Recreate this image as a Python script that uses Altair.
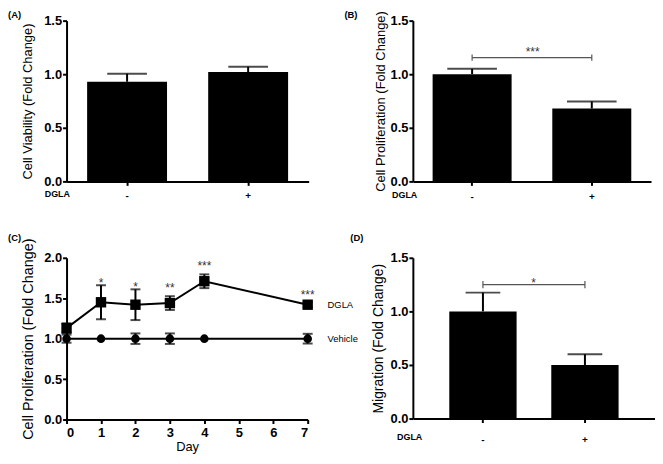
import altair as alt
import pandas as pd

# ---------------- data ----------------
groups = ["-", "+"]
viab_mean = [0.93, 1.02]
viab_err = [0.075, 0.05]
prolif_mean = [1.0, 0.68]
prolif_err = [0.05, 0.065]
mig_mean = [1.0, 0.5]
mig_err = [0.175, 0.10]

days = [0, 1, 2, 3, 4, 7]
dgla_mean = [1.13, 1.45, 1.42, 1.44, 1.71, 1.42]
dgla_err = [0.06, 0.21, 0.19, 0.085, 0.085, 0.03]
veh_mean = [1.0, 1.0, 1.0, 1.0, 1.0, 1.0]
veh_err = [0.05, 0.0, 0.065, 0.065, 0.0, 0.06]
star_days = [1, 2, 3, 4, 7]
star_text = ["*", "*", "**", "***", "***"]
star_y = [1.72, 1.68, 1.66, 1.93, 1.58]

FONT = "Liberation Sans"


def label_layer(text, x, y, size=9.5, weight="bold", align="left", baseline="middle"):
    return alt.Chart(pd.DataFrame({"t": [text]})).mark_text(
        font=FONT, fontSize=size, fontWeight=weight, align=align,
        baseline=baseline, color="black"
    ).encode(text="t:N", x=alt.value(x), y=alt.value(y))


def bar_panel(means, errs, ytitle, width, height, p_in, p_out, cap, tick_pad,
              title_pad, panel, panel_xy, dgla_xy, sig=None, title_size=13):
    df = pd.DataFrame({"g": groups, "m": means,
                       "hi": [m + e for m, e in zip(means, errs)]})
    xscale = alt.Scale(domain=groups, paddingInner=p_in, paddingOuter=p_out)
    xaxis = alt.Axis(title=None, labelAngle=0, labelFontSize=10,
                     labelPadding=tick_pad, tickSize=4)
    yscale = alt.Scale(domain=[0, 1.5], nice=False)
    yaxis = alt.Axis(values=[0, 0.5, 1.0, 1.5], format=".1f", titleFontSize=title_size,
                     titlePadding=title_pad, labelPadding=1)

    def X(field):
        return alt.X(field, sort=groups, scale=xscale, axis=xaxis, title=None)

    def Y(field):
        return alt.Y(field, scale=yscale, axis=yaxis, title=ytitle)

    base = alt.Chart(df)
    bars = base.mark_bar(color="black").encode(x=X("g:N"), y=Y("m:Q"))
    err = base.mark_rule(color="black", strokeWidth=2).encode(
        x=X("g:N"), y=Y("m:Q"), y2="hi:Q")
    capm = base.mark_tick(color="black", thickness=2, size=cap, orient="horizontal").encode(
        x=X("g:N"), y=Y("hi:Q"))
    layers = [bars, err, capm]
    if sig is not None:
        sy, half, star, star_dy, step_half = sig
        sdf = pd.DataFrame({"x1": ["-"], "x2": ["+"], "y": [sy], "s": [star]})
        edf = pd.DataFrame({"g": groups, "lo": [sy - half] * 2, "hi2": [sy + half] * 2})
        br = alt.Chart(sdf).mark_rule(color="#555555", strokeWidth=1.2).encode(
            x=X("x1:N"), x2="x2:N", y=Y("y:Q"))
        ends = alt.Chart(edf).mark_rule(color="#555555", strokeWidth=1.2).encode(
            x=X("g:N"), y=Y("lo:Q"), y2="hi2:Q")
        st = alt.Chart(sdf).mark_text(font=FONT, fontSize=12, color="#333333",
                                      baseline="alphabetic", dx=step_half, dy=star_dy).encode(
            x=X("x1:N"), y=Y("y:Q"), text="s:N")
        layers += [br, ends, st]
    layers.append(label_layer(panel, panel_xy[0], panel_xy[1]))
    layers.append(label_layer("DGLA", dgla_xy[0], dgla_xy[1], size=9))
    return alt.layer(*layers).properties(width=width, height=height)


A = bar_panel(viab_mean, viab_err, "Cell Viability (Fold Change)", 244, 162,
              0.34, 0.17, 40, 5, 9, "(A)", (-59, -6), (-22, 175))
B = bar_panel(prolif_mean, prolif_err, "Cell Proliferation (Fold Change)", 240, 162,
              0.34, 0.165, 50, 6, 3, "(B)", (-69, -6), (-21, 176),
              sig=(1.155, 0.03, "***", -2, 61))
D = bar_panel(mig_mean, mig_err, "Migration (Fold Change)", 244, 162,
              0.34, 0.357, 35, 12, 5, "(D)", (-63, -20), (-16, 181),
              sig=(1.25, 0.033, "*", 2, 51), title_size=14)

# ---------------- panel C ----------------
rows = []
for d, m, e in zip(days, dgla_mean, dgla_err):
    rows.append({"day": d, "series": "DGLA", "mean": m, "lo": m - e, "hi": m + e, "err": e})
for d, m, e in zip(days, veh_mean, veh_err):
    rows.append({"day": d, "series": "Vehicle", "mean": m, "lo": m - e, "hi": m + e, "err": e})
cdf = pd.DataFrame(rows)
cerr = cdf[cdf["err"] > 0]
last = cdf[cdf["day"] == days[-1]]
sdf = pd.DataFrame({"day": star_days, "y": star_y, "s": star_text})

cx = alt.Scale(domain=[0, 7], nice=False)
cy = alt.Scale(domain=[0, 2], nice=False)
ctitle = "Cell Proliferation (Fold Change)"
cxaxis = alt.Axis(values=[0, 1, 2, 3, 4, 5, 6, 7], format="d", tickCount=8,
                  labelOverlap=False, titleFontSize=13, labelPadding=3, titlePadding=1)
cyaxis = alt.Axis(values=[0, 0.5, 1.0, 1.5, 2.0], format=".1f",
                  titleFontSize=14.5, titlePadding=8, labelPadding=1)


def CX(field):
    return alt.X(field, scale=cx, axis=cxaxis, title="Day")


def CY(field):
    return alt.Y(field, scale=cy, axis=cyaxis, title=ctitle)


c_lines = alt.Chart(cdf).mark_line(color="black", strokeWidth=2).encode(
    x=CX("day:Q"), y=CY("mean:Q"), detail="series:N")
c_err = alt.Chart(cerr).mark_rule(color="black", strokeWidth=2).encode(
    x=CX("day:Q"), y=CY("lo:Q"), y2="hi:Q")
c_cap_hi = alt.Chart(cerr).mark_tick(color="black", thickness=2, size=10, orient="horizontal").encode(
    x=CX("day:Q"), y=CY("hi:Q"))
c_cap_lo = alt.Chart(cerr).mark_tick(color="black", thickness=2, size=10, orient="horizontal").encode(
    x=CX("day:Q"), y=CY("lo:Q"))
c_pts = alt.Chart(cdf).mark_point(filled=True, color="black", opacity=1).encode(
    x=CX("day:Q"), y=CY("mean:Q"),
    shape=alt.Shape("series:N", scale=alt.Scale(domain=["DGLA", "Vehicle"],
                                                range=["square", "circle"]), legend=None),
    size=alt.Size("series:N", scale=alt.Scale(domain=["DGLA", "Vehicle"], range=[110, 75]),
                  legend=None))
c_stars = alt.Chart(sdf).mark_text(font=FONT, fontSize=12, color="#333333",
                                   baseline="alphabetic", dy=7).encode(
    x=CX("day:Q"), y=CY("y:Q"), text="s:N")
c_leg = alt.Chart(last).mark_text(font=FONT, fontSize=9.5, color="black", align="left",
                                  baseline="middle", dx=20).encode(
    x=CX("day:Q"), y=CY("mean:Q"), text="series:N")

C = alt.layer(c_lines, c_err, c_cap_hi, c_cap_lo, c_pts, c_stars, c_leg,
              label_layer("(C)", -59, -20)).properties(width=243, height=163)

chart = alt.concat(
    A, B, C, D, columns=2, spacing={"row": 77, "column": 105}, bounds="flush"
).properties(padding=0).configure_view(stroke=None).configure_axis(
    grid=False, domainColor="black", domainWidth=2, tickColor="black", tickWidth=2,
    tickSize=4, labelFont=FONT, labelFontWeight="bold", labelFontSize=13,
    labelColor="black", titleFont=FONT, titleFontWeight="normal", titleColor="black"
)

chart.save("out.html", embed_options={"renderer": "svg", "actions": False})
